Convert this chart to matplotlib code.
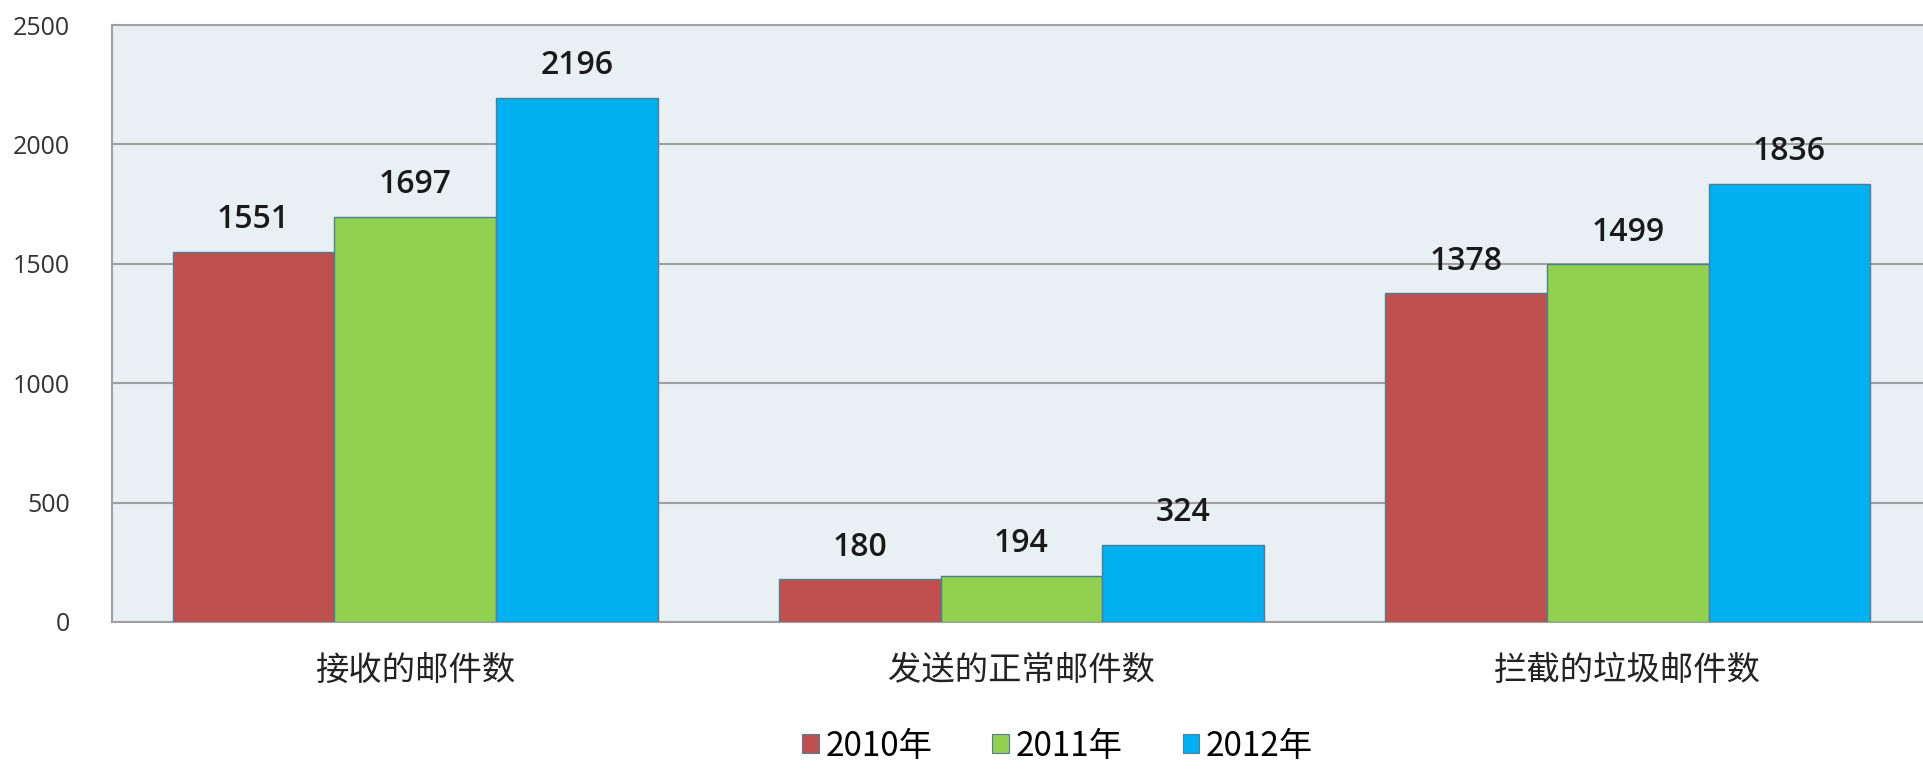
import matplotlib
matplotlib.use("Agg")
import matplotlib.pyplot as plt
import numpy as np
from matplotlib.patches import Patch

plt.rcParams['font.family'] = ['Noto Sans CJK SC', 'DejaVu Sans']

categories = ['接收的邮件数', '发送的正常邮件数', '拦截的垃圾邮件数']
series_names = ['2010年', '2011年', '2012年']
v2010 = [1551, 180, 1378]
v2011 = [1697, 194, 1499]
v2012 = [2196, 324, 1836]
yticks = [0, 500, 1000, 1500, 2000, 2500]
colors = ['#C0504D', '#92D050', '#00B0F0']

fig = plt.figure(figsize=(19.23, 7.74), dpi=100)
ax = fig.add_axes([0.0582, 0.1964, 0.946, 0.7713])
ax.set_facecolor('#E8F0F4')

x = np.arange(len(categories))
w = 0.8 / 3
for i, (vals, c) in enumerate(zip([v2010, v2011, v2012], colors)):
    pos = x + (i - 1) * w
    bars = ax.bar(pos, vals, width=w, color=c, edgecolor='#4F7D96', linewidth=1.0, zorder=3)
    for b, v in zip(bars, vals):
        ax.annotate(str(v), (b.get_x() + b.get_width() / 2, v), xytext=(0, 11),
                    textcoords='offset points', ha='center', va='bottom',
                    fontsize=23, fontweight='semibold', color='#1a1a1a', zorder=4,
                    family=['Open Sans', 'DejaVu Sans'])

ax.set_xlim(-0.5, 2.5)
ax.set_ylim(0, 2500)
ax.set_yticks(yticks)
ax.set_yticklabels([str(t) for t in yticks], fontsize=18, color='#333333',
                   family=['Open Sans', 'DejaVu Sans'])
ax.set_xticks(x)
ax.set_xticklabels(categories, fontsize=24, color='#222222')
ax.tick_params(axis='both', length=0)
ax.tick_params(axis='y', pad=30)
ax.tick_params(axis='x', pad=22)
ax.yaxis.grid(True, color='#A0A0A0', linewidth=1.5, zorder=0)
ax.set_axisbelow(True)
for s in ['right']:
    ax.spines[s].set_visible(False)
for s in ['left', 'top', 'bottom']:
    ax.spines[s].set_color('#A0A0A0')
    ax.spines[s].set_linewidth(1.5)

handles = [Patch(facecolor=c, edgecolor='#4F7D96', linewidth=0.8) for c in colors]
fig.legend(handles, series_names, loc='center', bbox_to_anchor=(0.55, 0.036), ncol=3,
           frameon=False, fontsize=24, handlelength=0.5, handleheight=0.5,
           handletextpad=0.2, columnspacing=1.8)

fig.savefig('out.png', dpi=100)
